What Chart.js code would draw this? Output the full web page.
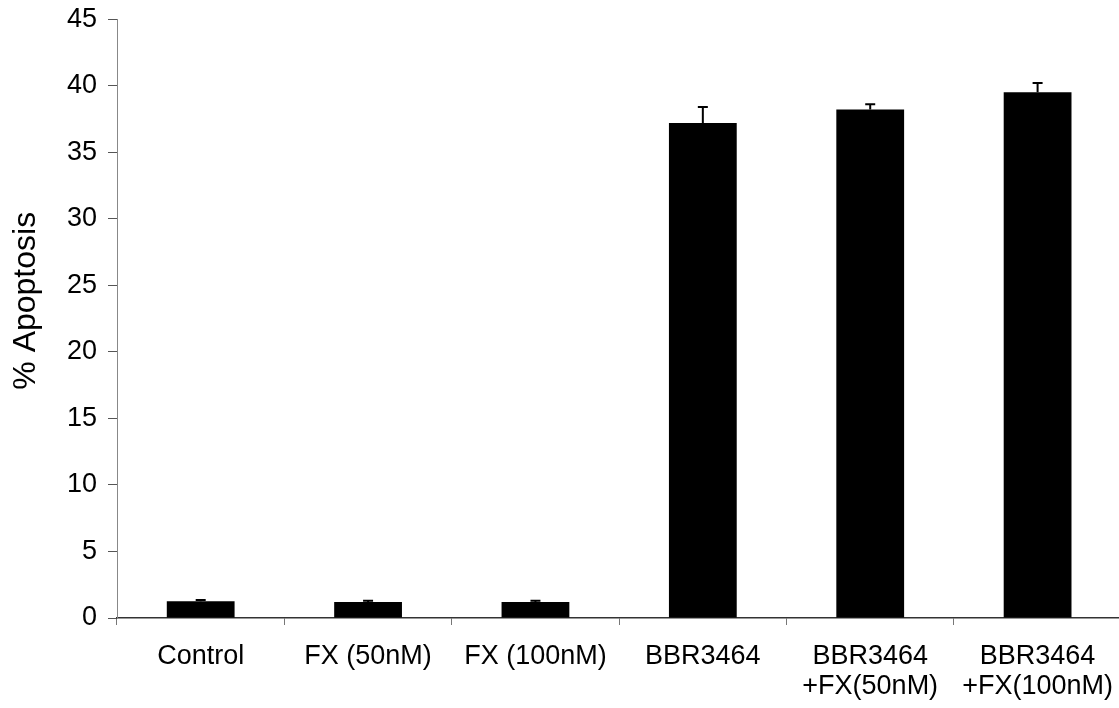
<!DOCTYPE html>
<html>
<head>
<meta charset="utf-8">
<script src="https://cdn.jsdelivr.net/npm/chart.js@4/dist/chart.umd.min.js"></script>
<style>
html,body{margin:0;padding:0;background:#fff;overflow:hidden;}
#wrap{position:absolute;left:0;top:0;width:1129px;height:708px;}
</style>
</head>
<body>
<div id="wrap"><canvas id="c" width="1129" height="708"></canvas></div>
<script>
const categories = [
  ['Control'],
  ['FX (50nM)'],
  ['FX (100nM)'],
  ['BBR3464'],
  ['BBR3464', '+FX(50nM)'],
  ['BBR3464', '+FX(100nM)']
];
const apoptosis = [1.25, 1.2, 1.2, 37.2, 38.2, 39.5];
const errors = [0.1, 0.1, 0.1, 1.2, 0.4, 0.7];
const yTicks = [0, 5, 10, 15, 20, 25, 30, 35, 40, 45];

const FONT = '"Liberation Sans", Arial, sans-serif';

const errorBarPlugin = {
  id: 'errorBars',
  afterDatasetsDraw(chart) {
    const ctx = chart.ctx;
    const meta = chart.getDatasetMeta(0);
    const yScale = chart.scales.y;
    ctx.save();
    ctx.strokeStyle = '#000';
    ctx.lineWidth = 2;
    meta.data.forEach((bar, i) => {
      const x = bar.x;
      const yTop = yScale.getPixelForValue(apoptosis[i]);
      const yErr = yScale.getPixelForValue(apoptosis[i] + errors[i]);
      ctx.beginPath();
      ctx.moveTo(x, yTop);
      ctx.lineTo(x, yErr);
      ctx.moveTo(x - 5, yErr);
      ctx.lineTo(x + 5, yErr);
      ctx.stroke();
    });
    ctx.restore();
  }
};

new Chart(document.getElementById('c'), {
  type: 'bar',
  data: {
    labels: categories,
    datasets: [{
      data: apoptosis,
      backgroundColor: '#000',
      borderWidth: 0,
      categoryPercentage: 1.0,
      barPercentage: 0.405
    }]
  },
  options: {
    responsive: false,
    animation: false,
    devicePixelRatio: 1,
    layout: { padding: { top: 1, right: 0, bottom: 0, left: 0 } },
    plugins: { legend: { display: false }, tooltip: { enabled: false } },
    scales: {
      x: {
        afterFit(scale) { scale.height = 90; },
        grid: {
          display: true,
          drawOnChartArea: false,
          drawTicks: true,
          tickLength: 7,
          color: '#777',
          offset: true
        },
        border: { display: true, color: '#333', width: 1.5 },
        ticks: {
          color: '#000',
          font: { family: FONT, size: 27, lineHeight: 1.13 },
          padding: 16,
          maxRotation: 0,
          autoSkip: false
        }
      },
      y: {
        min: 0,
        max: 45,
        afterFit(scale) { scale.width = 117; },
        afterBuildTicks(scale) { scale.ticks = yTicks.map(v => ({ value: v })); },
        grid: {
          display: true,
          drawOnChartArea: false,
          drawTicks: true,
          tickLength: 9,
          color: '#555'
        },
        border: { display: true, color: '#888', width: 1 },
        ticks: {
          color: '#000',
          font: { family: FONT, size: 27, lineHeight: 0.6 },
          padding: 11
        },
        title: {
          display: true,
          text: '\u00a0\u00a0\u00a0\u00a0% Apoptosis',
          color: '#000',
          font: { family: FONT, size: 32 },
          padding: { top: 7, bottom: 0 }
        }
      }
    }
  },
  plugins: [errorBarPlugin]
});
</script>
</body>
</html>
